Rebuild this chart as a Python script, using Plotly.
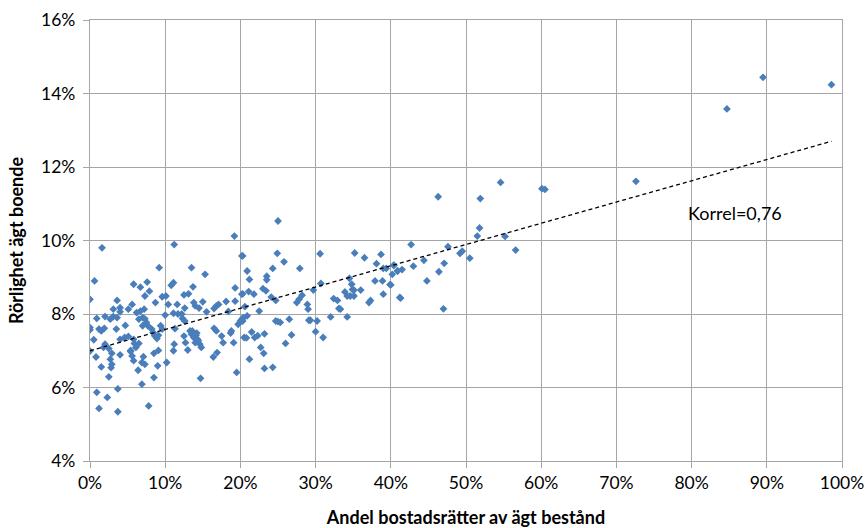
import plotly.graph_objects as go

# Andel bostadsrätter av ägt bestånd (%), Rörlighet ägt boende (%)
share_pct = [
    19.2, 1.6, 11.2, 20.2, 9.2, 13.5, 15.3, 0.6, 5.8, 6.7, 7.6, 7.9, 10.8, 11.1, 13.7, 7.3, 0.0, 3.6, 8.7,
    9.6, 10.1, 10.4, 12.5, 13.1, 11.6, 12.6, 13.8, 14.0, 15.0, 14.5, 15.5, 16.5, 16.8, 17.1, 18.1, 19.3,
    19.3, 20.2, 18.4, 3.1, 4.0, 4.0, 5.1, 5.6, 6.2, 6.7, 7.2, 0.9, 2.0, 2.7, 3.1, 3.6, 0.0, 0.0, 1.2,
    1.5, 1.9, 3.5, 4.7, 0.5, 2.0, 1.8, 2.5, 4.0, 4.6, 5.1, 5.8, 5.9, 6.1, 5.4, 6.5, 7.0, 7.5, 7.7, 6.5,
    7.0, 7.3, 8.2, 8.4, 8.6, 8.9, 9.1, 9.4, 9.6, 10.0, 11.1, 11.7, 12.2, 12.3, 12.6, 11.2, 11.1, 11.3,
    12.5, 12.7, 13.0, 13.3, 13.5, 13.8, 14.1, 14.3, 14.6, 14.8, 14.4, 14.0, 13.6, 14.2, 16.5, 16.8, 17.5,
    17.7, 18.7, 18.8, 19.7, 20.3, 20.5, 19.1, 16.4, 16.9, 19.5, 14.7, 10.2, 9.0, 8.5, 9.1, 7.1, 7.3, 6.9,
    6.4, 8.5, 6.9, 5.4, 5.6, 5.8, 4.0, 2.9, 2.7, 2.9, 2.8, 2.5, 1.5, 0.8, 0.0, 0.9, 3.7, 2.3, 1.2, 3.7,
    7.8,
    25.0, 20.3, 24.9, 25.8, 24.3, 20.9, 21.2, 23.5, 23.5, 27.9, 30.6, 35.2, 36.5, 38.7, 38.1, 39.0, 39.4,
    40.4, 40.9, 20.3, 21.8, 21.1, 23.0, 23.4, 24.1, 24.7, 22.5, 20.6, 20.9, 20.2, 20.4, 20.0, 24.7, 25.0,
    25.3, 26.5, 27.5, 27.8, 28.2, 28.9, 29.0, 29.1, 29.3, 29.7, 30.7, 30.2, 30.0, 31.0, 32.0, 32.4, 32.9,
    33.1, 33.3, 34.2, 33.9, 34.2, 34.6, 35.1, 34.5, 34.8, 34.9, 35.1, 36.0, 37.1, 37.3, 37.9, 38.9, 39.0,
    40.0, 41.2, 26.8, 26.0, 21.5, 20.8, 21.9, 22.3, 23.2, 22.7, 23.1, 21.2, 23.2, 24.3,
    46.3, 51.9, 54.6, 60.1, 60.5, 51.8, 51.5, 55.2, 56.6, 42.7, 47.6, 49.2, 49.5, 50.5, 40.4, 40.2, 40.9,
    41.5, 43.0, 44.4, 47.1, 46.4, 44.8, 39.9, 41.3, 47.0,
    72.6, 84.7, 89.5, 98.6,
]
mobility_pct = [
    10.12, 9.80, 9.89, 9.58, 9.26, 9.26, 9.08, 8.90, 8.81, 8.73, 8.87, 8.62, 8.78, 8.85, 8.74, 8.49, 8.40,
    8.37, 8.31, 8.47, 8.49, 8.26, 8.52, 8.55, 8.26, 8.16, 8.31, 8.22, 8.33, 8.16, 8.06, 8.15, 8.22, 8.26,
    8.34, 8.71, 8.35, 8.54, 8.07, 8.13, 8.17, 8.06, 8.13, 8.26, 8.04, 8.08, 8.13, 7.88, 7.93, 7.86, 7.93,
    7.90, 7.63, 7.57, 7.59, 7.54, 7.61, 7.59, 7.69, 7.30, 7.18, 7.09, 7.06, 7.31, 7.36, 7.39, 7.31, 7.20,
    7.09, 7.01, 7.20, 7.68, 7.77, 7.68, 7.86, 7.90, 7.87, 7.59, 7.50, 7.41, 7.33, 7.42, 7.68, 7.59, 7.97,
    8.02, 8.00, 8.00, 7.88, 7.81, 7.18, 7.00, 7.60, 7.40, 7.22, 7.02, 7.54, 7.45, 7.36, 7.42, 7.31, 7.18,
    7.09, 7.27, 7.22, 7.54, 7.48, 7.61, 7.54, 7.40, 7.22, 7.48, 7.54, 7.72, 7.81, 7.36, 7.22, 6.83, 6.95,
    6.41, 6.25, 6.68, 6.59, 6.93, 7.01, 6.84, 6.63, 6.68, 6.47, 6.27, 6.09, 6.98, 6.86, 6.73, 6.89, 6.93,
    6.77, 6.63, 6.54, 6.29, 6.56, 6.83, 6.99, 5.87, 5.96, 5.73, 5.43, 5.34, 5.50,
    10.53, 9.58, 9.65, 9.42, 9.24, 9.17, 8.94, 9.03, 8.93, 9.24, 9.64, 9.66, 9.53, 9.62, 9.37, 9.24, 9.24,
    9.33, 9.17, 8.55, 8.54, 8.61, 8.69, 8.63, 8.46, 8.37, 8.08, 8.20, 7.95, 7.86, 7.90, 7.81, 7.81, 7.79,
    7.77, 7.86, 8.31, 8.40, 8.51, 8.26, 8.13, 7.83, 7.83, 8.65, 8.83, 7.81, 7.52, 7.36, 7.92, 8.42, 8.37,
    8.15, 8.13, 7.92, 8.60, 8.49, 8.49, 8.49, 8.97, 8.81, 8.67, 8.65, 8.65, 8.31, 8.37, 8.90, 8.90, 8.54,
    8.79, 8.45, 7.43, 7.20, 7.51, 7.35, 7.36, 7.41, 7.46, 7.09, 6.93, 6.77, 6.52, 6.55,
    11.19, 11.14, 11.58, 11.41, 11.39, 10.34, 10.12, 10.11, 9.74, 9.89, 9.83, 9.65, 9.71, 9.52, 9.32,
    9.08, 9.17, 9.21, 9.30, 9.46, 9.38, 9.15, 8.90, 8.80, 8.43, 8.14,
    11.61, 13.58, 14.44, 14.24,
]

# Linear trend line end points (share %, mobility %)
trend_share_pct = [0.0, 98.6]
trend_mobility_pct = [7.0, 12.7]

annotation_text = "Korrel=0,76"
x_title = "Andel bostadsrätter av ägt bestånd"
y_title = "Rörlighet ägt boende"

FONT = "Lato, Carlito, Calibri, 'Open Sans', sans-serif"
GRID = "#a6a6a6"
FS = 17.5

fig = go.Figure()
fig.add_trace(go.Scatter(
    x=[v / 100 for v in share_pct],
    y=[v / 100 for v in mobility_pct],
    mode="markers",
    marker=dict(symbol="diamond", size=6, color="#4a7ebb"),
    showlegend=False,
    hoverinfo="x+y",
))
fig.add_trace(go.Scatter(
    x=[v / 100 for v in trend_share_pct],
    y=[v / 100 for v in trend_mobility_pct],
    mode="lines",
    line=dict(color="black", width=1.3, dash="4px,3px"),
    showlegend=False,
    hoverinfo="skip",
))

fig.add_annotation(
    x=0.792, y=0.1076, xref="x", yref="y",
    text=annotation_text, showarrow=False, xanchor="left", yanchor="middle",
    font=dict(family=FONT, size=18, color="black"),
)

fig.update_layout(
    width=868, height=528,
    margin=dict(l=90, r=26, t=20, b=67),
    paper_bgcolor="white", plot_bgcolor="white",
    font=dict(family=FONT, size=FS, color="black"),
)
fig.update_xaxes(
    range=[0, 1], dtick=0.1, tickformat=".0%", automargin=False,
    showgrid=True, gridcolor=GRID, gridwidth=1.3,
    showline=True, linecolor=GRID, linewidth=1.3, mirror=True,
    ticks="outside", ticklen=6, tickcolor=GRID, tickwidth=1.3,
    zeroline=False,
    title=dict(text="<b>" + x_title + "</b>", font=dict(family=FONT, size=18), standoff=19),
    tickfont=dict(family=FONT, size=FS),
)
fig.update_yaxes(
    range=[0.04, 0.16], dtick=0.02, tickformat=".0%", automargin=False,
    showgrid=True, gridcolor=GRID, gridwidth=1.3,
    showline=True, linecolor=GRID, linewidth=1.3, mirror=True,
    ticks="outside", ticklen=6, tickcolor=GRID, tickwidth=1.3,
    ticklabelstandoff=4,
    zeroline=False,
    title=dict(text="<b>" + y_title + "</b>", font=dict(family=FONT, size=18), standoff=12),
    tickfont=dict(family=FONT, size=FS),
)

fig.write_html("out.html")
